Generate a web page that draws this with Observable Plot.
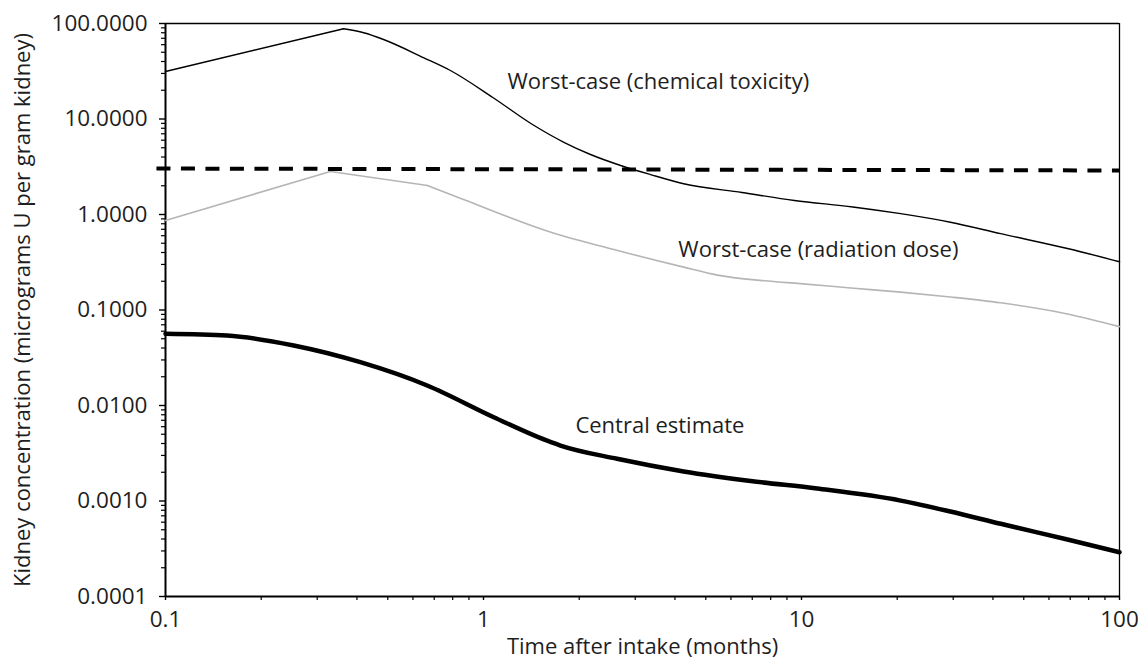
<!DOCTYPE html>
<html>
<head>
<meta charset="utf-8">
<script src="https://cdn.jsdelivr.net/npm/d3@7"></script>
<script src="https://cdn.jsdelivr.net/npm/@observablehq/plot@0.6"></script>
<style>
  html, body { margin: 0; padding: 0; background: #fff; }
</style>
</head>
<body>
<div id="chart"></div>
<script>
// ---- Data ----
const chemX = [0.1, 0.363, 0.42, 0.485, 0.647, 0.787, 1.07, 1.43, 1.79, 2.17, 2.70, 3.35, 4.26, 6.5, 9.5, 14.5, 20.5, 29.4, 42.3, 68.6, 100];
const chemY = [31.4, 88, 80, 68, 44, 32.2, 16.8, 8.7, 5.7, 4.25, 3.26, 2.62, 2.10, 1.70, 1.40, 1.20, 1.02, 0.83, 0.63, 0.44, 0.32];

const radX = [0.1, 0.33, 0.667, 0.865, 1.63, 2.64, 4.26, 5.44, 7.82, 9.9, 14.3, 20.5, 29.4, 42.3, 68.6, 100];
const radY = [0.865, 2.82, 2.01, 1.436, 0.653, 0.420, 0.281, 0.232, 0.201, 0.189, 0.170, 0.154, 0.137, 0.119, 0.091, 0.067];

const centX = [0.1, 0.156, 0.253, 0.41, 0.665, 1.077, 1.63, 1.746, 2.63, 4.26, 6.92, 11.2, 20.5, 29.4, 42.3, 68.6, 100];
const centY = [0.0564, 0.0541, 0.0425, 0.0284, 0.0162, 0.00754, 0.00413, 0.00381, 0.00277, 0.00204, 0.00162, 0.00135, 0.00101, 0.000776, 0.000577, 0.000395, 0.000291];

const limitX = [0.09, 100];
const limitY = [3.03, 2.89];

const labelTexts = ["Worst-case (chemical toxicity)", "Worst-case (radiation dose)", "Central estimate"];
const labelX = [1.19, 4.10, 1.945];
const labelY = [24.7, 0.4305, 0.00618];

const xMajor = [0.1, 1, 10, 100];
const xMajorLabels = ["0.1", "1", "10", "100"];
const yMajor = [0.0001, 0.001, 0.01, 0.1, 1, 10, 100];
const yMajorLabels = ["0.0001", "0.0010", "0.0100", "0.1000", "1.0000", "10.0000", "100.0000"];
const minorMultipliers = [2, 3, 4, 5, 6, 7, 8, 9];

const xTitle = "Time after intake (months)";
const yTitle = "Kidney concentration (micrograms U per gram kidney)";

// ---- Build tables ----
const toRows = (xs, ys) => xs.map((x, i) => ({x, y: ys[i]}));
const chem = toRows(chemX, chemY);
const rad = toRows(radX, radY);
const cent = toRows(centX, centY);
const limit = toRows(limitX, limitY);
const labels = labelTexts.map((t, i) => ({t, x: labelX[i], y: labelY[i]}));

const xMinor = xMajor.slice(0, -1).flatMap(d => minorMultipliers.map(k => d * k));
const yMinor = yMajor.slice(0, -1).flatMap(d => minorMultipliers.map(k => d * k));

const FONT = "'Open Sans', 'Noto Sans', sans-serif";
const TXT = "#1e1e1e";
const FS = 22;
const TICK_FS = 22.5;

const chart = Plot.plot({
  width: 1140,
  height: 665,
  marginLeft: 165,
  marginRight: 21,
  marginTop: 23,
  marginBottom: 69,
  style: {fontFamily: FONT, fontSize: FS + "px", background: "#fff", color: "#000", overflow: "visible"},
  x: {type: "log", domain: [0.1, 100], label: null},
  y: {type: "log", domain: [0.0001, 100], label: null},
  marks: [
    // minor ticks
    Plot.axisX(xMinor, {tickSize: 4, tickFormat: () => "", strokeWidth: 1.2, label: null}),
    Plot.axisY(yMinor, {tickSize: 4, tickFormat: () => "", strokeWidth: 1.2, label: null}),
    // major ticks
    Plot.axisX(xMajor, {tickSize: 4, tickFormat: () => "", strokeWidth: 1.4, label: null}),
    Plot.axisY(yMajor, {tickSize: 6, tickFormat: () => "", strokeWidth: 1.4, label: null}),
    // major tick labels
    Plot.text(xMajor, {x: d => d, text: (d, i) => xMajorLabels[i], frameAnchor: "bottom", lineAnchor: "top", dy: 15, fontSize: TICK_FS, fill: TXT}),
    Plot.text(yMajor, {y: d => d, text: (d, i) => yMajorLabels[i], frameAnchor: "left", textAnchor: "end", dx: -18, fontSize: TICK_FS, fill: TXT}),
    // frame
    Plot.ruleY([100], {stroke: "#000", strokeWidth: 1.4}),
    Plot.ruleX([100], {stroke: "#000", strokeWidth: 1.3}),
    Plot.ruleX([0.1], {stroke: "#000", strokeWidth: 2}),
    Plot.ruleY([0.0001], {stroke: "#000", strokeWidth: 2.2}),
    // series: sharp rising parts drawn straight, decays smoothed
    Plot.line(rad.slice(0, 3), {x: "x", y: "y", stroke: "#b5b5b5", strokeWidth: 1.6}),
    Plot.line(rad.slice(2), {x: "x", y: "y", stroke: "#b5b5b5", strokeWidth: 1.6, curve: "monotone-x"}),
    Plot.line(chem.slice(0, 2), {x: "x", y: "y", stroke: "#000", strokeWidth: 1.4}),
    Plot.line(chem.slice(1), {x: "x", y: "y", stroke: "#000", strokeWidth: 1.4, curve: "monotone-x"}),
    Plot.line(cent, {x: "x", y: "y", stroke: "#000", strokeWidth: 4.5, curve: "monotone-x"}),
    Plot.line(limit, {x: "x", y: "y", stroke: "#000", strokeWidth: 4, strokeDasharray: "14,10.5", strokeDashoffset: 19, strokeLinecap: "butt"}),
    // series labels
    Plot.text(labels, {x: "x", y: "y", text: "t", textAnchor: "start", fontSize: FS, fill: TXT}),
    // axis titles
    Plot.text([xTitle], {frameAnchor: "bottom", dy: 57, fontSize: FS, fill: TXT}),
    Plot.text([yTitle], {frameAnchor: "left", dx: -143, rotate: -90, textAnchor: "middle", fontSize: FS, fill: TXT})
  ]
});

document.getElementById("chart").appendChild(chart);
</script>
</body>
</html>
